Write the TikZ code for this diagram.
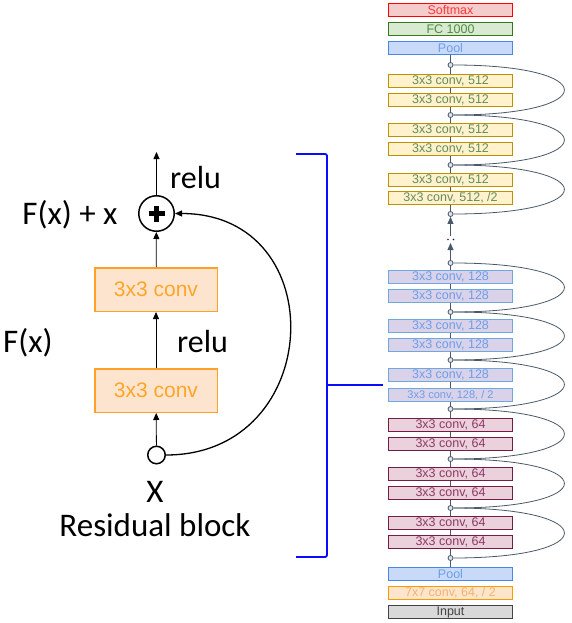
\documentclass[tikz,border=0pt]{standalone}
\usepackage{fontspec}
\setmainfont{Carlito}
\newfontfamily\layerfont{Liberation Sans}
\usetikzlibrary{arrows.meta}
\definecolor{skipc}{RGB}{74,88,104}
\definecolor{jointf}{RGB}{222,228,236}
\definecolor{smf}{RGB}{244,204,204}\definecolor{smd}{RGB}{255,0,0}\definecolor{smt}{RGB}{250,60,60}
\definecolor{fcf}{RGB}{217,234,211}\definecolor{fcd}{RGB}{56,118,29}\definecolor{fct}{RGB}{80,140,62}
\definecolor{plf}{RGB}{201,218,248}\definecolor{pld}{RGB}{74,134,232}\definecolor{plt}{RGB}{109,158,235}
\definecolor{cvaf}{RGB}{255,242,204}\definecolor{cvad}{RGB}{191,144,0}\definecolor{cvat}{RGB}{100,140,90}
\definecolor{cvbf}{RGB}{217,210,233}\definecolor{cvbd}{RGB}{111,168,220}\definecolor{cvbt}{RGB}{109,158,235}
\definecolor{cvcf}{RGB}{234,209,220}\definecolor{cvcd}{RGB}{116,27,71}\definecolor{cvct}{RGB}{142,58,100}
\definecolor{sevf}{RGB}{252,229,205}\definecolor{sevd}{RGB}{255,153,0}\definecolor{sevt}{RGB}{246,178,107}
\definecolor{inf}{RGB}{217,217,217}\definecolor{ind}{RGB}{67,67,67}
\definecolor{blkf}{RGB}{252,228,206}\definecolor{blkd}{RGB}{255,160,40}\definecolor{blkt}{RGB}{255,165,40}
\definecolor{brkc}{RGB}{10,10,255}

\tikzset{
  layer/.style={draw,line width=1.4pt,minimum width=123.6pt,minimum height=12.5pt,inner sep=0pt,
    font=\layerfont\fontsize{12.5}{14}\selectfont},
  lsoft/.style={layer,draw=smd,fill=smf,text=smt},
  lfc/.style={layer,draw=fcd,fill=fcf,text=fct},
  lpool/.style={layer,draw=pld,fill=plf,text=plt},
  lconva/.style={layer,draw=cvad,fill=cvaf,text=cvat},
  lconvb/.style={layer,draw=cvbd,fill=cvbf,text=cvbt},
  lconvc/.style={layer,draw=cvcd,fill=cvcf,text=cvct},
  lseven/.style={layer,draw=sevd,fill=sevf,text=sevt},
  linput/.style={layer,draw=ind,fill=inf,text=ind},
  joint/.style={circle,draw=skipc,fill=jointf,line width=0.8pt,minimum size=5pt,inner sep=0pt},
  flow/.style={skipc,line width=0.8pt},
  skip/.style={skipc,line width=0.8pt},
  block/.style={draw=blkd,fill=blkf,text=blkt,line width=1.5pt,minimum width=122.5pt,minimum height=43.5pt,
    inner sep=0pt,font=\layerfont\fontsize{21}{24}\selectfont},
  arr/.style={black,line width=0.8pt,-{Triangle[length=7pt,width=6pt]}},
  lbl/.style={inner sep=0pt,font=\fontsize{33}{36}\selectfont},
  brk/.style={brkc,line width=1.8pt,rounded corners=2pt},
}

\begin{document}
\begin{tikzpicture}[x=1pt,y=-1pt]
  \useasboundingbox (0,0) rectangle (571,623);
  % ResNet column
  \node[lsoft] (softmax) at (450.5,10) {Softmax};
  \node[lfc] (fc) at (450.5,29) {FC 1000};
  \node[lpool] (poolT) at (450.5,48) {Pool};
  \foreach \n/\y in {j1/65,j2/115,j3/165,j4/214,j5/263,j6/312,j7/360,j8/409,j9/459,j10/508,j11/558}
    \node[joint] (\n) at (450.5,\y) {};
  \foreach \n/\y in {a1/81,a2/100,a3/130,a4/149,a5/180} \node[lconva] (\n) at (450.5,\y) {3x3 conv, 512};
  \node[lconva] (a6) at (450.5,198) {3x3 conv, 512, /2};
  \foreach \n/\y in {b1/277,b2/296,b3/326,b4/345,b5/375} \node[lconvb] (\n) at (450.5,\y) {3x3 conv, 128};
  \node[lconvb,font=\layerfont\fontsize{11}{12}\selectfont] (b6) at (450.5,395) {3x3 conv, 128, / 2};
  \foreach \n/\y in {d1/425,d2/444,d3/474,d4/493,d5/523,d6/542} \node[lconvc] (\n) at (450.5,\y) {3x3 conv, 64};
  \node[lpool] (poolB) at (450.5,574) {Pool};
  \node[lseven] (conv7) at (450.5,593) {7x7 conv, 64, / 2};
  \node[linput] (input) at (450.5,612) {Input};
  \foreach \u/\v in {poolT/j1,j1/a1,a1/a2,a2/j2,j2/a3,a3/a4,a4/j3,j3/a5,a5/a6,a6/j4,
      j5/b1,b1/b2,b2/j6,j6/b3,b3/b4,b4/j7,j7/b5,b5/b6,b6/j8,
      j8/d1,d1/d2,d2/j9,j9/d3,d3/d4,d4/j10,j10/d5,d5/d6,d6/j11,j11/poolB}
    \draw[flow] (\u) -- (\v);
  \foreach \u/\v in {j2/j1,j3/j2,j4/j3,j6/j5,j7/j6,j8/j7,j9/j8,j10/j9,j11/j10}
    \draw[skip] (\u.east) .. controls +(148,0) and +(148,0) .. (\v.east);
  \coordinate (gapL) at (450.5,243);
  \coordinate (gapU) at (450.5,236);
  \draw[flow,-{Triangle[length=7pt,width=6pt]}] (j5) -- (gapL);
  \draw[flow,-{Triangle[length=7pt,width=6pt]}] (gapU) -- (j4);
  \fill[red!60!black] (448,239.5) circle (0.9);
  \fill[blue!60!black] (453.5,239.5) circle (0.9);
  % bracket
  \draw[brk] (296,154) -- (327,154) -- (327,557) -- (296,557);
  \draw[brk] (327,385) -- (383,385);
  % residual block
  \node[block] (conv2) at (156,289.5) {3x3 conv};
  \node[block] (conv1) at (156,390.5) {3x3 conv};
  \node[circle,draw,line width=1.5pt,minimum size=35.5pt,inner sep=0pt] (sum) at (156.5,213.5) {};
  \draw[line width=4.5pt] ([xshift=-8pt]sum.center) -- ([xshift=8pt]sum.center);
  \draw[line width=4.5pt] ([yshift=-8pt]sum.center) -- ([yshift=8pt]sum.center);
  \node[circle,draw,fill=white,line width=1.5pt,minimum size=17.5pt,inner sep=0pt] (xin) at (156.5,455) {};
  \coordinate (out) at (156.5,152);
  \draw[arr] (sum) -- (out);
  \draw[arr] (conv2) -- (sum);
  \draw[arr] (conv1) -- (conv2);
  \draw[arr] (xin) -- (conv1);
  \draw[arr,line width=1.3pt] (xin.east) .. controls +(159,0) and +(159,0) .. (sum.east);
  \node[lbl,anchor=west,font=\fontsize{32}{36}\selectfont] (relutop) at (170,177.5) {relu};
  \node[lbl] (fxx) at (70,215) {F(x) + x};
  \node[lbl,anchor=west] (fx) at (3,343) {F(x)};
  \node[lbl,anchor=west,font=\fontsize{32}{36}\selectfont] (relumid) at (177,342) {relu};
  \node[lbl] (xlab) at (155,492) {X};
  \node[lbl] (caption) at (155,525) {Residual block};
\end{tikzpicture}
\end{document}
